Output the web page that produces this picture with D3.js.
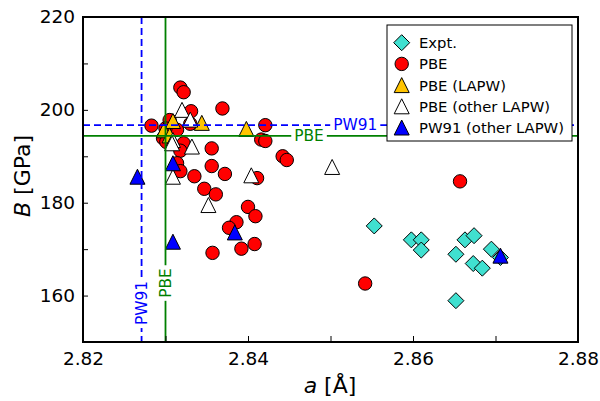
<!DOCTYPE html>
<html>
<head>
<meta charset="utf-8">
<script src="https://cdn.jsdelivr.net/npm/d3@7"></script>
<style>
  body { margin: 0; background: #fff; }
  svg { font-family: "DejaVu Sans", sans-serif; }
</style>
</head>
<body>
<div id="chart"></div>
<script>
// data: [a (Angstrom), B (GPa)]
var expt = [[2.8553,175.0],[2.8598,172.0],[2.8610,172.0],[2.8610,169.8],[2.8652,168.9],[2.8663,172.0],
  [2.8674,172.9],[2.8673,166.9],[2.8684,165.9],[2.8695,170.0],[2.8706,168.2],[2.8652,158.9]]
var pbe = [[2.8318,204.8],[2.8322,203.8],[2.8369,200.3],[2.8331,199.7],[2.8283,196.6],[2.8421,196.7],
  [2.8416,193.6],[2.8421,193.3],[2.8356,191.7],[2.8356,187.9],[2.8372,186.2],[2.8335,185.7],
  [2.8347,183.0],[2.8361,181.8],[2.8400,179.1],[2.8409,177.1],[2.8386,175.8],[2.8377,174.6],
  [2.8408,171.1],[2.8392,170.1],[2.8357,169.2],[2.8411,185.3],[2.8442,190.0],[2.8447,189.2],
  [2.8657,184.6],[2.8542,162.6],[2.8305,197.8],[2.8297,193.9],[2.8322,192.8],[2.8318,191.2],
  [2.8314,188.5],[2.8318,186.8],[2.8314,195.7],[2.8330,197.0],[2.8300,196.0],[2.8301,193.1]]
var pbeLapw = [[2.8309,197.6],[2.8344,197.2],[2.8398,195.9],[2.8298,195.6],[2.8305,194.5]]
var pbeOther = [[2.8320,200.0],[2.8330,197.9],[2.8309,193.5],[2.8332,192.1],[2.8404,185.9],
  [2.8352,179.5],[2.8309,185.6],[2.8502,187.7],[2.8308,192.8]]
var pw91Other = [[2.8266,185.6],[2.8309,188.5],[2.8309,171.6],[2.8384,173.6],[2.8706,168.6]]

var refA = [{name: "PW91", value: 2.8271}, {name: "PBE", value: 2.8300}]
var refB = [{name: "PW91", value: 196.7}, {name: "PBE", value: 194.4}]

var legendNames = ["Expt.", "PBE", "PBE (LAPW)", "PBE (other LAPW)", "PW91 (other LAPW)"]
var xTicks = [2.82, 2.83, 2.84, 2.85, 2.86, 2.87, 2.88]
var yTicks = [150, 160, 170, 180, 190, 200, 210, 220]

var width = 600
var height = 401
var mLeft = 83, mRight = 578, mTop = 17, mBottom = 342

var x = d3.scaleLinear().domain([2.82, 2.88]).range([mLeft, mRight])
var y = d3.scaleLinear().domain([150, 220]).range([mBottom, mTop])

var svg = d3.select("#chart").append("svg")
  .attr("width", width)
  .attr("height", height)

svg.append("clipPath").attr("id", "clip")
  .append("rect").attr("x", mLeft).attr("y", mTop).attr("width", mRight - mLeft).attr("height", mBottom - mTop)

var plot = svg.append("g").attr("clip-path", "url(#clip)")

function tri(cx, cy, s) {
  return "M" + cx + "," + (cy - s) + "L" + (cx + s) + "," + (cy + s) + "L" + (cx - s) + "," + (cy + s) + "Z"
}
function dia(cx, cy, s) {
  return "M" + cx + "," + (cy - s) + "L" + (cx + s) + "," + cy + "L" + cx + "," + (cy + s) + "L" + (cx - s) + "," + cy + "Z"
}

var styles = [
  {kind: "diamond", fill: "#40e0d0"},
  {kind: "circle", fill: "#ff0000"},
  {kind: "triangle", fill: "#ffc400"},
  {kind: "triangle", fill: "#ffffff"},
  {kind: "triangle", fill: "#0000ff"}
]

function drawMark(g, st, cx, cy) {
  if (st.kind == "circle") {
    g.append("circle").attr("cx", cx).attr("cy", cy).attr("r", 6.7)
      .attr("fill", st.fill).attr("stroke", "#000").attr("stroke-width", 1)
  } else {
    g.append("path").attr("d", st.kind == "diamond" ? dia(cx, cy, 8) : tri(cx, cy, 7.5))
      .attr("fill", st.fill).attr("stroke", "#000").attr("stroke-width", 1)
      .attr("stroke-linejoin", "miter")
  }
}

var series = [expt, pbe, pbeLapw, pbeOther, pw91Other]
series.forEach(function (s, i) {
  var g = plot.append("g")
  s.forEach(function (d) { drawMark(g, styles[i], x(d[0]), y(d[1])) })
})

// reference lines
var lineColor = {"PW91": "#0000ff", "PBE": "#008000"}
refA.forEach(function (r) {
  plot.append("line")
    .attr("x1", x(r.value)).attr("x2", x(r.value)).attr("y1", mTop).attr("y2", mBottom)
    .attr("stroke", lineColor[r.name]).attr("stroke-width", 1.8)
    .attr("stroke-dasharray", r.name == "PW91" ? "7,4" : null)
})
refB.forEach(function (r) {
  plot.append("line")
    .attr("x1", mLeft).attr("x2", mRight).attr("y1", y(r.value)).attr("y2", y(r.value))
    .attr("stroke", lineColor[r.name]).attr("stroke-width", 1.8)
    .attr("stroke-dasharray", r.name == "PW91" ? "7,4" : null)
})

// line labels
var labelPosB = {"PW91": 2.8530, "PBE": 2.8474}
var labelPosA = {"PW91": 158.4, "PBE": 162.7}
refB.forEach(function (r) {
  var t = plot.append("text")
    .attr("x", x(labelPosB[r.name])).attr("y", y(r.value))
    .attr("text-anchor", "middle").attr("dominant-baseline", "central")
    .style("font-size", "15.4px").attr("fill", lineColor[r.name])
    .text(r.name)
  var bb = t.node().getBBox()
  plot.insert("rect", function () { return t.node() })
    .attr("x", bb.x - 3).attr("y", y(r.value) - 7).attr("width", bb.width + 6).attr("height", 14)
    .attr("fill", "#fff")
})
refA.forEach(function (r) {
  var cx = x(r.value), cy = y(labelPosA[r.name])
  var t = plot.append("text")
    .attr("transform", "translate(" + cx + "," + cy + ") rotate(-90)")
    .attr("text-anchor", "middle").attr("dominant-baseline", "central")
    .style("font-size", "15.4px").attr("fill", lineColor[r.name])
    .text(r.name)
  var bb = t.node().getBBox()
  plot.insert("rect", function () { return t.node() })
    .attr("x", cx - 7).attr("y", cy - bb.width / 2 - 3).attr("width", 14).attr("height", bb.width + 6)
    .attr("fill", "#fff")
})

// legend
var lg = svg.append("g")
lg.append("rect").attr("x", 387).attr("y", 25).attr("width", 185).attr("height", 116)
  .attr("fill", "#fff").attr("stroke", "#000").attr("stroke-width", 1)
legendNames.forEach(function (n, i) {
  var ly = 42.7 + i * 21.2
  drawMark(lg, styles[i], 401.7, ly)
  lg.append("text").attr("x", 419).attr("y", ly).attr("dominant-baseline", "central")
    .style("font-size", "14.8px").attr("fill", "#000").text(n)
})

// axes
var xAxis = d3.axisBottom(x).tickValues(xTicks).tickSizeInner(-6).tickSizeOuter(0).tickPadding(10)
  .tickFormat(function (d) { return Math.round(d * 100) % 2 == 0 ? d3.format(".2f")(d) : "" })
var yAxis = d3.axisLeft(y).tickValues(yTicks).tickSizeInner(-5).tickSizeOuter(0).tickPadding(8)
  .tickFormat(function (d) { return d % 20 == 0 ? d : "" })

var gx = svg.append("g").attr("transform", "translate(0," + mBottom + ")").call(xAxis)
var gy = svg.append("g").attr("transform", "translate(" + mLeft + ",0)").call(yAxis)
;[gx, gy].forEach(function (g) {
  g.select(".domain").remove()
  g.selectAll(".tick line").attr("stroke", "#000").attr("stroke-width", 1)
  g.selectAll(".tick text").style("font-size", "18.5px").style("font-family", "DejaVu Sans").attr("fill", "#000")
})

svg.append("rect").attr("x", mLeft).attr("y", mTop).attr("width", mRight - mLeft).attr("height", mBottom - mTop)
  .attr("fill", "none").attr("stroke", "#000").attr("stroke-width", 2)

// axis titles
var xt = svg.append("text").attr("x", 330).attr("y", 393).attr("text-anchor", "middle")
  .style("font-size", "22px").attr("fill", "#000")
xt.append("tspan").style("font-style", "italic").text("a")
xt.append("tspan").text(" [Å]")

var yt = svg.append("text").attr("transform", "translate(30,176) rotate(-90)").attr("text-anchor", "middle")
  .style("font-size", "22px").attr("fill", "#000")
yt.append("tspan").style("font-style", "italic").text("B")
yt.append("tspan").text(" [GPa]")
</script>
</body>
</html>
